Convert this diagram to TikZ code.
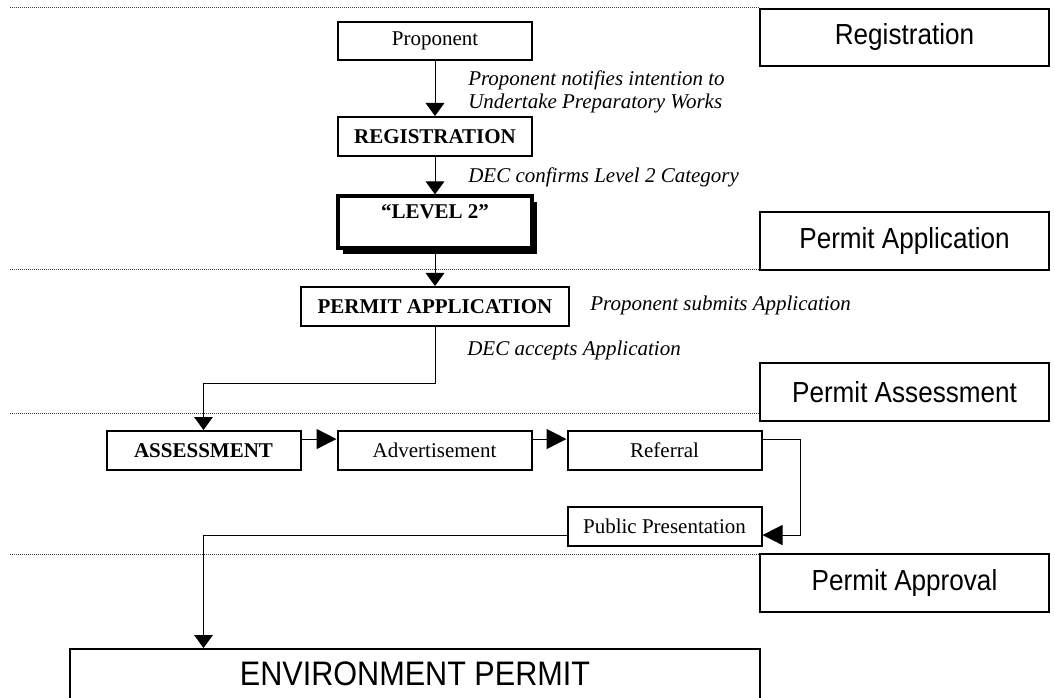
\documentclass[tikz,border=0pt]{standalone}
\usepackage{fontspec}
\setmainfont{Liberation Serif}
\newfontfamily\lsans[FakeStretch=0.9]{Liberation Sans}
\usetikzlibrary{arrows.meta,shadows}
\begin{document}
\begin{tikzpicture}[x=0.75pt,y=-0.75pt,
  serif/.style={font=\fontsize{15.75pt}{18pt}\selectfont},
  box/.style={draw=black, line width=1.5pt, fill=white, inner sep=0pt, serif},
  flowbox/.style={box, minimum width=145.5pt, minimum height=29.25pt},
  boldbox/.style={flowbox, font=\fontsize{15.75pt}{18pt}\selectfont\bfseries},
  lvlbox/.style={draw=black, line width=2.4pt, fill=white, inner sep=0pt,
     minimum width=145.5pt, minimum height=39pt,
     drop shadow={shadow xshift=4pt, shadow yshift=-4.5pt, fill=black, opacity=1}},
  lbox/.style={draw=black, line width=1.5pt, fill=white, inner sep=0pt,
     minimum width=216.75pt, minimum height=43.5pt,
     font=\lsans\fontsize{21.75pt}{24pt}\selectfont},
  ann/.style={inner sep=0pt, anchor=west, align=left,
     font=\fontsize{15.75pt}{17.25pt}\selectfont\itshape},
  conn/.style={draw=black, line width=0.75pt},
  varrow/.style={conn, -{Triangle[length=9.75pt,width=14pt]}},
  harrow/.style={conn, -{Triangle[length=15pt,width=15pt]}},
  dotline/.style={draw=black!75, line width=0.75pt, dash pattern=on 0.75pt off 0.75pt}]
\clip (0,0) rectangle (1055,698);
\fill[white] (0,0) rectangle (1055,698);

% section separators
\draw[dotline] (10,8) -- (760,8);
\draw[dotline] (10,270) -- (760,270);
\draw[dotline] (10,413) -- (760,413);
\draw[dotline] (10,554) -- (760,554);

% stage labels
\node[lbox, minimum height=42.75pt] (lreg) at (904.5,37.5) {Registration};
\node[lbox] (lpa) at (904.5,241) {Permit Application};
\node[lbox] (lpas) at (904.5,392) {Permit Assessment};
\node[lbox] (lpap) at (904.5,583) {Permit Approval};

% flow boxes
\node[flowbox, minimum height=28.5pt] (prop) at (435,41) {Proponent};
\node[boldbox] (reg) at (435,136.5) {REGISTRATION};
\node[lvlbox, label={[serif, font=\fontsize{15.75pt}{18pt}\selectfont\bfseries, yshift=7.5pt]center:“LEVEL 2”}] (lvl2) at (435,222) {};
\node[boldbox, minimum width=201pt] (pa) at (435,306.5) {PERMIT APPLICATION};
\node[boldbox] (ass) at (203.5,450.5) {ASSESSMENT};
\node[flowbox] (adv) at (434.5,450.5) {Advertisement};
\node[flowbox] (ref) at (664.5,450.5) {Referral};
\node[flowbox] (pp) at (664.5,526.5) {Public Presentation};
\node[draw=black, line width=1.5pt, fill=white, inner sep=0pt,
      minimum width=517.5pt, minimum height=75pt, anchor=north,
      label={[font=\lsans\fontsize{25.5pt}{28pt}\selectfont, yshift=19pt]center:ENVIRONMENT PERMIT}]
      (env) at (415,648) {};

% annotations
\node[ann] (a1) at (468,91.5) {Proponent notifies intention to\\Undertake Preparatory Works};
\node[ann] (a2) at (468,177) {DEC confirms Level 2 Category};
\node[ann] (a3) at (590,305) {Proponent submits Application};
\node[ann] (a4) at (467,350) {DEC accepts Application};

% connectors
\draw[varrow] (prop) -- (reg);
\draw[varrow] (reg) -- (lvl2);
\draw[varrow] (lvl2) -- (pa);
\draw[varrow] (pa.south) -- ++(0,56) -| (ass.north);
\draw[harrow] ([yshift=8.6pt]ass.east) -- ([yshift=8.6pt]adv.west);
\draw[harrow] ([yshift=8.6pt]adv.east) -- ([yshift=8.6pt]ref.west);
\draw[harrow] ([yshift=8.6pt]ref.east) -- ++(38,0) |- ([yshift=-6.4pt]pp.east);
\draw[varrow] ([yshift=-6.4pt]pp.west) -| (env.north -| ass.north);
\end{tikzpicture}
\end{document}
